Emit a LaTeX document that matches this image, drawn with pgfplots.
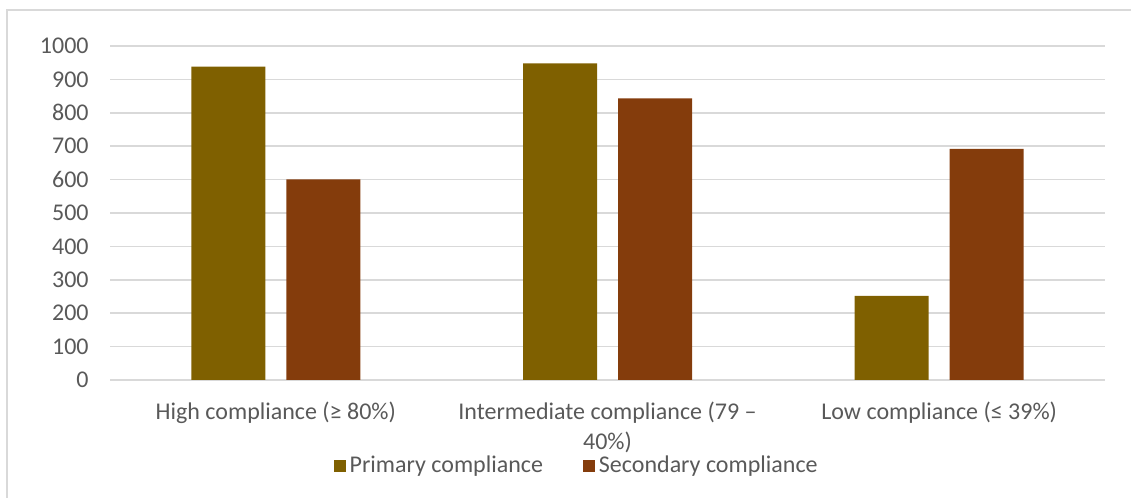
\documentclass[border=0pt]{standalone}
\usepackage{pgfplots}
\pgfplotsset{compat=1.18}
\usepackage{fontspec}
\setmainfont{Carlito}
\definecolor{prim}{HTML}{7F6000}
\definecolor{sec}{HTML}{843C0C}
\definecolor{gridc}{HTML}{D9D9D9}
\definecolor{txt}{HTML}{595959}
\begin{document}
\begin{tikzpicture}[x=0.5pt,y=0.5pt]
\useasboundingbox (0,0) rectangle (1131,498);
\draw[gridc,line width=1pt] (7,0) -- (7,488) -- (1131,488);
\begin{axis}[
  at={(55pt,59pt)}, anchor=south west,
  scale only axis,
  width=497.5pt, height=167pt,
  xmin=-0.5, xmax=2.5,
  ymin=0, ymax=1000,
  ytick={0,100,...,1000},
  xtick={0,1,2},
  xticklabels={High compliance (≥ 80\%),Intermediate compliance (79 –\\40\%),Low compliance (≤ 39\%)},
  ybar, bar width=37pt,
  axis line style={draw=none},
  major tick length=0pt,
  ymajorgrids, grid style={gridc,line width=0.75pt},
  tick label style={font=\fontsize{12}{15}\selectfont, text=txt},
  /pgf/number format/assume math mode=true,
  /pgf/number format/1000 sep={},
  yticklabel style={anchor=east, inner sep=0pt, xshift=-10.5pt},
  xticklabel style={anchor=north, align=center, inner sep=0pt, yshift=-11pt},
  legend style={at={(0.47,-0.256)}, anchor=center, draw=none, fill=none,
    font=\fontsize{12}{15}\selectfont, text=txt, legend columns=2,
    /tikz/every even column/.append style={column sep=18pt},
    inner sep=0pt},
  legend image code/.code={\fill[#1] (0pt,-3pt) rectangle (6pt,3pt);},
]
\addplot[fill=prim, draw=none, bar shift=-23.75pt] coordinates {(0,938) (1,948) (2,252)};
\addplot[fill=sec, draw=none, bar shift=23.75pt] coordinates {(0,601) (1,843) (2,692)};
\legend{Primary compliance, Secondary compliance}
\end{axis}
\end{tikzpicture}
\end{document}
